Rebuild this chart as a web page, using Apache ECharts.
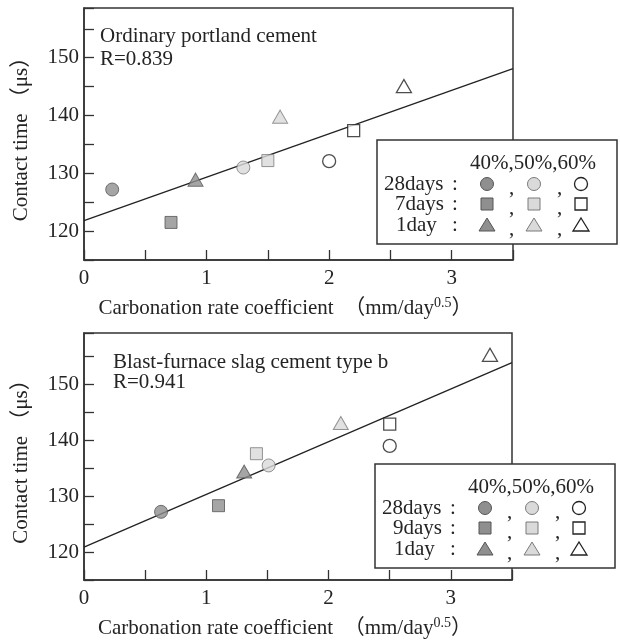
<!DOCTYPE html>
<html>
<head>
<meta charset="utf-8">
<script src="https://cdn.jsdelivr.net/npm/echarts@6/dist/echarts.min.js"></script>
<style>
html, body { margin: 0; padding: 0; background: #fff; }
#chart { width: 620px; height: 641px; }
</style>
</head>
<body>
<div id="chart"></div>
<script>
// fill level order used by every point list: 40%, 50%, 60%
var fillLevels = ['40%', '50%', '60%'];

// Ordinary portland cement  [rate coefficient, contact time]
var opc28days = [[0.23, 127.2], [1.30, 131.0], [2.00, 132.1]];
var opc7days  = [[0.71, 121.5], [1.50, 132.2], [2.20, 137.4]];
var opc1day   = [[0.91, 128.9], [1.60, 139.8], [2.61, 145.1]];
var opcFit    = [[0, 121.8], [3.5, 148.1]];

// Blast-furnace slag cement type b
var bfs28days = [[0.63, 127.2], [1.51, 135.5], [2.50, 139.0]];
var bfs9days  = [[1.10, 128.3], [1.41, 137.6], [2.50, 142.9]];
var bfs1day   = [[1.31, 134.4], [2.10, 143.1], [3.32, 155.3]];
var bfsFit    = [[0, 120.9], [3.5, 153.9]];

var xTicks = [0, 1, 2, 3];
var yTicks = [120, 130, 140, 150];

var FONT = "'Liberation Serif', 'Noto Sans CJK JP', serif";
var INK = '#242424';

// 塗りの濃さ
var fillStyle = [
    { color: '#8f8f8f', borderColor: '#555', borderWidth: 1 },
    { color: '#dadada', borderColor: '#7a7a7a', borderWidth: 1 },
    { color: '#ffffff', borderColor: '#222', borderWidth: 1.3 }
];

function pts(list) {
    return list.map(function (p, i) {
        return { value: p, itemStyle: fillStyle[i] };
    });
}

function scatter(idx, list, symbol, size) {
    return {
        type: 'scatter', xAxisIndex: idx, yAxisIndex: idx,
        symbol: symbol, symbolSize: size, z: 5,
        data: pts(list)
    };
}

function fitLine(idx, list) {
    return {
        type: 'line', xAxisIndex: idx, yAxisIndex: idx,
        data: list, symbol: 'none', z: 3,
        lineStyle: { color: '#222', width: 1.3 }
    };
}

function xAxis(idx) {
    return {
        type: 'value', gridIndex: idx, min: 0, max: 3.5, interval: 0.5,
        name: 'Carbonation rate coefficient  （mm/day{sup|0.5}）',
        nameLocation: 'middle', nameGap: 36,
        nameTextStyle: {
            fontFamily: FONT, fontSize: 21, color: INK, lineHeight: 24,
            padding: [0, 26, 0, 0],
            rich: { sup: { fontFamily: FONT, fontSize: 14, color: INK, verticalAlign: 'top', lineHeight: 13 } }
        },
        axisLine: { lineStyle: { color: '#333', width: 1.5 } },
        axisTick: { inside: true, length: 10, lineStyle: { color: '#333', width: 1.3 } },
        splitLine: { show: false },
        axisLabel: {
            margin: 8, fontFamily: FONT, fontSize: 21, color: INK,
            formatter: function (v) { return xTicks.indexOf(v) >= 0 ? String(v) : ''; }
        }
    };
}

function yAxis(idx, max) {
    return {
        type: 'value', gridIndex: idx, min: 115, max: max, interval: 5,
        name: 'Contact time （μs）',
        nameLocation: 'middle', nameGap: 52,
        nameTextStyle: { fontFamily: FONT, fontSize: 21, color: INK },
        axisLine: { lineStyle: { color: '#333', width: 1.5 } },
        axisTick: { inside: true, length: 10, lineStyle: { color: '#333', width: 1.3 } },
        splitLine: { show: false },
        axisLabel: {
            margin: 5, fontFamily: FONT, fontSize: 21, color: INK,
            formatter: function (v) { return yTicks.indexOf(v) >= 0 ? String(v) : ''; }
        }
    };
}

// 凡例の枠と記号
function legendBox(left, top, midLabel) {
    var ts = { font: '21px ' + FONT, fill: INK, textVerticalAlign: 'middle' };
    function txt(text, x, y) {
        return { type: 'text', z: 101, style: Object.assign({ text: text, x: left + x, y: top + y }, ts) };
    }
    var rows = [44, 64, 85];
    var colX = [110, 157, 204];
    var els = [
        { type: 'rect', z: 100, shape: { x: left, y: top, width: 240, height: 104 },
          style: { fill: '#fff', stroke: '#333', lineWidth: 1.5 } },
        txt(fillLevels.join(','), 93, 23.5),
        txt('28days', 7, rows[0]),
        txt(midLabel, 18, rows[1]),
        txt('1day', 19, rows[2])
    ];
    rows.forEach(function (ry, r) {
        els.push(txt(':', 75, ry));
        els.push(txt(',', 132, ry + 4));
        els.push(txt(',', 180, ry + 4));
        colX.forEach(function (cx, c) {
            var st = {
                fill: fillStyle[c].color, stroke: fillStyle[c].borderColor,
                lineWidth: fillStyle[c].borderWidth
            };
            var x = left + cx, y = top + ry;
            if (r === 0) {
                els.push({ type: 'circle', z: 101, shape: { cx: x, cy: y, r: 6.5 }, style: st });
            } else if (r === 1) {
                els.push({ type: 'rect', z: 101, shape: { x: x - 6, y: y - 6, width: 12, height: 12 }, style: st });
            } else {
                els.push({ type: 'polygon', z: 101,
                    shape: { points: [[x, y - 7], [x + 8, y + 6], [x - 8, y + 6]] }, style: st });
            }
        });
    });
    return els;
}

var chart = echarts.init(document.getElementById('chart'));

var option = {
    backgroundColor: '#fff',
    animation: false,
    title: [
        { text: 'Ordinary portland cement\nR=0.839', left: 95, top: 20,
          textStyle: { fontFamily: FONT, fontSize: 21, fontWeight: 'normal', color: INK, lineHeight: 23 } },
        { text: 'Blast-furnace slag cement type b\nR=0.941', left: 108, top: 347,
          textStyle: { fontFamily: FONT, fontSize: 21, fontWeight: 'normal', color: INK, lineHeight: 20 } }
    ],
    grid: [
        { left: 84, top: 8, width: 429, height: 252, show: true, borderColor: '#333', borderWidth: 1.5 },
        { left: 84, top: 333, width: 428, height: 251, show: true, borderColor: '#333', borderWidth: 1.5 }
    ],
    xAxis: [xAxis(0), xAxis(1)],
    yAxis: [yAxis(0, 158.6), yAxis(1, 159.2)],
    series: [
        fitLine(0, opcFit),
        scatter(0, opc28days, 'circle', 13),
        scatter(0, opc7days, 'rect', 12),
        scatter(0, opc1day, 'triangle', [15, 13]),
        fitLine(1, bfsFit),
        scatter(1, bfs28days, 'circle', 13),
        scatter(1, bfs9days, 'rect', 12),
        scatter(1, bfs1day, 'triangle', [15, 13])
    ],
    graphic: legendBox(377, 140, '7days').concat(legendBox(375, 464, '9days'))
};

chart.setOption(option);
window.addEventListener('resize', function () { chart.resize(); });
</script>
</body>
</html>
